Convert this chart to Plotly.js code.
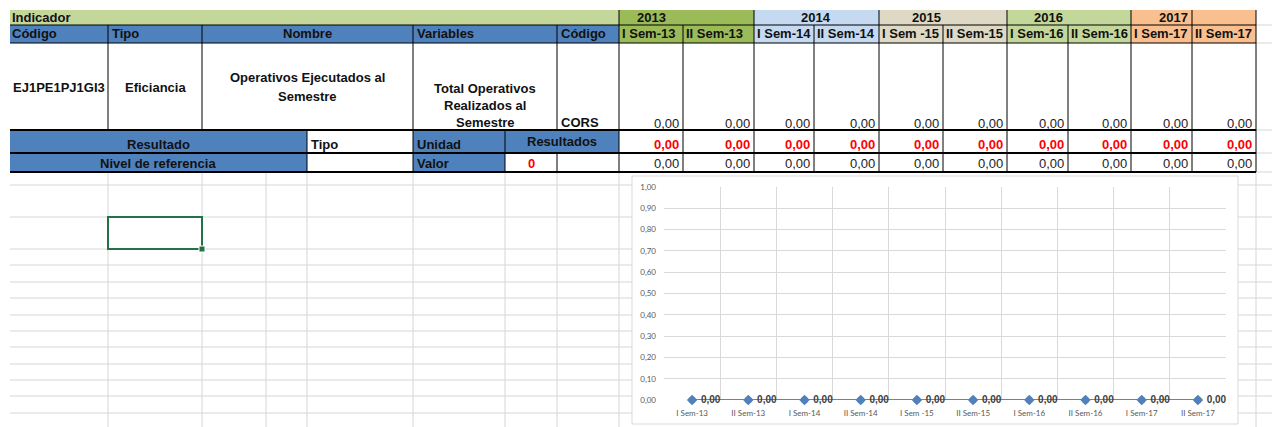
<!DOCTYPE html>
<html>
<head>
<meta charset="utf-8">
<script src="https://cdn.plot.ly/plotly-3.0.1.min.js"></script>
<style>html,body{margin:0;padding:0;background:#fff;}#chart{width:1272px;height:427px;}</style>
</head>
<body>
<div id="chart"></div>
<script>
// ---------- DATA ----------
const semestres = ['I Sem-13','II Sem-13','I Sem-14','II Sem-14','I Sem -15','II Sem-15','I Sem-16','II Sem-16','I Sem-17','II Sem-17'];
const years = ['2013','2014','2015','2016','2017'];
const totalOperativos = [0,0,0,0,0,0,0,0,0,0];
const resultados = [0,0,0,0,0,0,0,0,0,0];
const nivelReferencia = [0,0,0,0,0,0,0,0,0,0];
const valorReferencia = 0;
const indicadorCodigo = 'EJ1PE1PJ1GI3';
const indicadorTipo = 'Eficiancia';
const indicadorNombre = ['Operativos Ejecutados al', 'Semestre'];
const variableNombre = ['Total Operativos', 'Realizados al', 'Semestre'];
const variableCodigo = 'CORS';

// ---------- LAYOUT HELPERS ----------
const W = 1272, H = 427;
const px = x => x / W, py = y => 1 - y / H;
const fmt = v => v.toFixed(2).replace('.', ',');
const shapes = [], annotations = [];
function rect(x0, y0, x1, y1, fill, lc, lw) {
  shapes.push({type:'rect', xref:'paper', yref:'paper', layer:'below',
    x0:px(x0), x1:px(x1), y0:py(y1), y1:py(y0), fillcolor:fill || 'rgba(0,0,0,0)',
    line:{width: lw || 0, color: lc || 'rgba(0,0,0,0)'}});
}
function hl(x0, x1, y, c, w) {
  shapes.push({type:'line', xref:'paper', yref:'paper', layer:'below',
    x0:px(x0), x1:px(x1), y0:py(y), y1:py(y), line:{color:c, width:w}});
}
function vl(x, y0, y1, c, w) {
  shapes.push({type:'line', xref:'paper', yref:'paper', layer:'below',
    x0:px(x), x1:px(x), y0:py(y0), y1:py(y1), line:{color:c, width:w}});
}
function t(text, x, y, anchor, o) {
  o = o || {};
  annotations.push({text: o.bold === false ? text : '<b>' + text + '</b>', x:px(x), y:py(y),
    xref:'paper', yref:'paper', xanchor:anchor, yanchor:'middle', showarrow:false,
    borderpad:0, font:{family:'Liberation Sans, Arial, sans-serif', size:o.size || 13, color:o.color || '#111'}});
}

const GRID = '#d6d6d6';
// spreadsheet background grid
[185,217,249,265,282,298,315,331,347,364,380,396,413].forEach(y => hl(10, 1272, y, GRID, 1));
[108,202,266,307,413,505,557,619,1256].forEach(x => vl(x, 172, 427, GRID, 1));
[25,43,130,153,172].forEach(y => hl(1256, 1272, y, GRID, 1));

// chart area box
rect(632, 176, 1238, 424, '#ffffff', '#d9d9d9', 1);

// selected cell
rect(108, 217, 202, 249, null, '#217346', 2);
rect(199, 246, 205, 252, '#217346', '#ffffff', 1);

// ---------- TABLE ----------
const semX = [619,683,754,814,879,943,1007,1068,1131,1192,1256];
const yearFill = ['#9BBB59','#C5D9F1','#DDD9C4','#C4D79B','#FABF8F'];
const BLUE = '#4F81BD';

// row fills
rect(10, 10, 619, 25, '#C4D79B');
for (let i = 0; i < 10; i++) {
  const f = yearFill[Math.floor(i / 2)];
  rect(semX[i], 10, semX[i+1], 25, f);
  rect(semX[i], 25, semX[i+1], 43, f);
}
rect(10, 25, 619, 43, BLUE);
rect(10, 130, 307, 172, BLUE);
rect(413, 130, 505, 172, BLUE);
rect(505, 130, 619, 153, BLUE);

// borders
const K = '#000';
hl(10, 1256, 25, K, 1);
hl(10, 1256, 43, K, 1);
hl(10, 1256, 130, K, 2);
hl(10, 1256, 153, K, 2);
hl(10, 1256, 172, K, 2);
[619,754,879,1007,1131,1192,1256].forEach(x => vl(x, 10, 25, K, 1));
[108,202,413,557].forEach(x => vl(x, 25, 130, K, 1));
semX.forEach(x => vl(x, 25, 130, K, 1));
[307,413,505].forEach(x => vl(x, 130, 172, K, 1));
vl(557, 153, 172, K, 1);
semX.forEach(x => vl(x, 130, 172, K, 1));

// header texts
t('Indicador', 11, 17.5, 'left');
const yearPos = [[651,'center'],[816,'center'],[926,'center'],[1048,'center'],[1189,'right']];
years.forEach((yv, i) => t(yv, yearPos[i][0], 17.5, yearPos[i][1]));
t('Código', 11, 34, 'left');
t('Tipo', 111, 34, 'left');
t('Nombre', 307, 34, 'center');
t('Variables', 416, 34, 'left');
t('Código', 560, 34, 'left');
semestres.forEach((s, i) => t(s, semX[i] + 2, 34, 'left'));

// data row
t(indicadorCodigo, 59, 87, 'center');
t(indicadorTipo, 155, 87, 'center');
indicadorNombre.forEach((s, i) => t(s, 307, 78 + i * 18, 'center'));
variableNombre.forEach((s, i) => t(s, 485, 88 + i * 17, 'center'));
t(variableCodigo, 560, 122, 'left');
totalOperativos.forEach((v, i) => t(fmt(v), semX[i+1] - 3, 123, 'right', {bold:false, color:'#222'}));

// resultado row
t('Resultado', 158, 145, 'center');
t('Tipo', 310, 145, 'left');
t('Unidad', 416, 145, 'left');
t('Resultados', 562, 142, 'center');
resultados.forEach((v, i) => t(fmt(v), semX[i+1] - 3, 145, 'right', {color:'#FF0000'}));

// nivel row
t('Nivel de referencia', 158, 163, 'center');
t('Valor', 416, 163, 'left');
t(String(valorReferencia), 531, 163, 'center', {color:'#FF0000'});
nivelReferencia.forEach((v, i) => t(fmt(v), semX[i+1] - 3, 163, 'right', {bold:false, color:'#222'}));

// ---------- CHART ----------
const traces = [
  {x: semestres, y: nivelReferencia, type:'scatter', mode:'lines+markers', cliponaxis:false,
   line:{color:'#C0504D', width:1.5}, marker:{symbol:'circle', size:7, color:'#C0504D'}, hoverinfo:'skip'},
  {x: semestres, y: resultados, type:'scatter', mode:'lines+markers+text', cliponaxis:false,
   line:{color:'#4F81BD', width:1.5}, marker:{symbol:'diamond', size:8, color:'#4F81BD'},
   texttemplate:'\u00a0<b>%{y:.2f}</b>', textposition:'middle right',
   textfont:{family:'Liberation Sans, Arial, sans-serif', size:10, color:'#404040'}, hoverinfo:'skip'}
];

const layout = {
  width: W, height: H, margin:{l:0, r:0, t:0, b:0, pad:0},
  paper_bgcolor:'#ffffff', plot_bgcolor:'rgba(0,0,0,0)',
  showlegend:false, separators:',.',
  font:{family:'Lato, Liberation Sans, sans-serif', color:'#595959'},
  xaxis:{domain:[px(664), px(1226)], type:'category', tickson:'boundaries', range:[-0.5, 9.5],
    showgrid:true, gridcolor:'#d9d9d9', gridwidth:1, zeroline:false, showline:false, ticks:'',
    tickfont:{family:'Lato, sans-serif', size:8, color:'#595959'}, ticklabelstandoff:7, fixedrange:true},
  yaxis:{domain:[py(400), py(187)], range:[0, 1], tick0:0, dtick:0.1, tickformat:'.2f',
    showgrid:true, gridcolor:'#d9d9d9', gridwidth:1, zeroline:false, showline:false, ticks:'',
    tickfont:{family:'Lato, sans-serif', size:8, color:'#595959'}, ticklabelstandoff:7, fixedrange:true},
  shapes: shapes, annotations: annotations
};

Plotly.newPlot('chart', traces, layout, {staticPlot:true, displayModeBar:false});
</script>
</body>
</html>
